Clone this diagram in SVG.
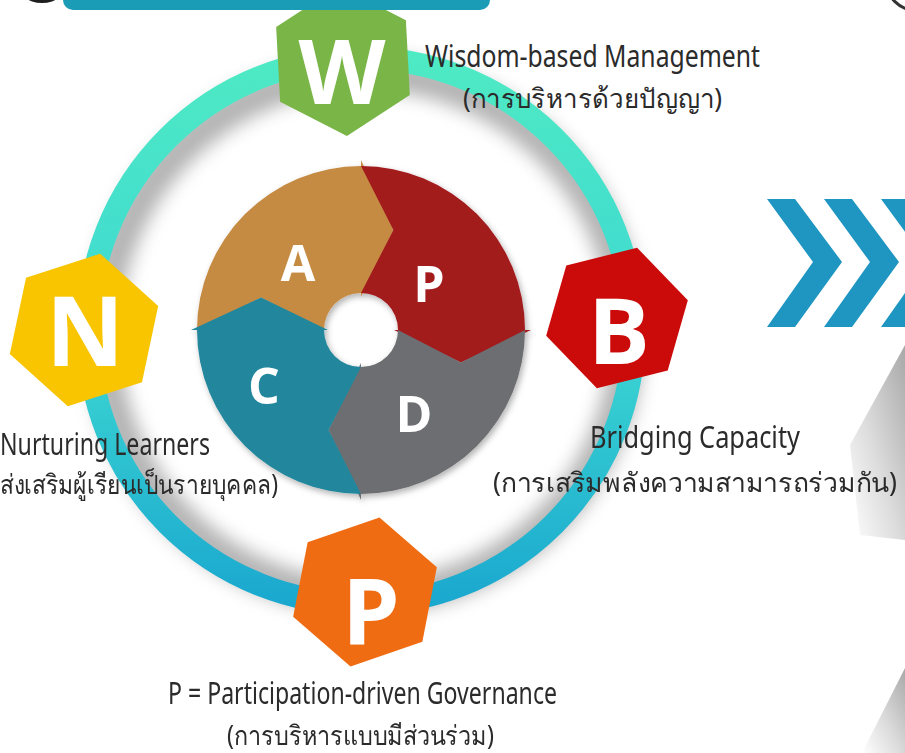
<svg xmlns="http://www.w3.org/2000/svg" width="905" height="753" viewBox="0 0 905 753">
<defs>
<linearGradient id="ringGrad" x1="0" y1="0" x2="0" y2="1">
<stop offset="0" stop-color="#4EEAC4"/>
<stop offset="0.5" stop-color="#3ED8D2"/>
<stop offset="1" stop-color="#1AA8CF"/>
</linearGradient>
<linearGradient id="wedge" x1="1" y1="0" x2="0" y2="1">
<stop offset="0" stop-color="#a8a8a8"/>
<stop offset="0.55" stop-color="#dcdcdc"/>
<stop offset="1" stop-color="#ffffff"/>
</linearGradient>
<filter id="blur8" x="-20%" y="-20%" width="140%" height="140%"><feGaussianBlur stdDeviation="9"/></filter>
<filter id="soft" x="-20%" y="-20%" width="140%" height="140%"><feDropShadow dx="2" dy="3" stdDeviation="3" flood-color="#000" flood-opacity="0.3"/></filter>
<polygon id="hex" points="0,-1 0.866,-0.5 0.866,0.5 0,1 -0.866,0.5 -0.866,-0.5"/>
<path id="seg" d="M197,330 A164,164 0 0 1 361,166 L361,160 L393.4,230.1 L361,297 L361,293 A37,37 0 0 0 324,330 L261.1,297.6 Z"/>
</defs>
<style>
.lbl{font-family:"Noto Sans","DejaVu Sans Condensed","Liberation Sans",sans-serif;fill:#2b2b2b;font-size:30px}
.th{font-size:27px}
.big{font-family:"Open Sans","Lato","DejaVu Sans",sans-serif;font-weight:700;fill:#ffffff;text-anchor:middle}
.pie{font-family:"Open Sans","Lato","DejaVu Sans",sans-serif;font-weight:700;fill:#ffffff;text-anchor:middle;font-size:50px}
</style>
<rect width="905" height="753" fill="#ffffff"/>

<g id="background">
<circle cx="918" cy="-22" r="33" fill="none" stroke="#333" stroke-width="3"/>
<polygon points="905,345 850,445 860,535 905,540" fill="url(#wedge)"/>
<polygon points="905,668 862,753 905,753" fill="url(#wedge)"/>
</g>

<g id="chevrons" fill="#1E96C1">
<polygon points="767,199 795,199 842,262 795,327 767,327 813,262"/>
<polygon points="824,199 852,199 899,262 852,327 824,327 870,262"/>
<polygon points="881,199 909,199 956,262 909,327 881,327 927,262"/>
</g>

<g id="ring">
<circle cx="365" cy="335" r="262" fill="none" stroke="#777" stroke-width="34" opacity="0.55" filter="url(#blur8)"/>
<circle cx="361" cy="331" r="273" fill="none" stroke="url(#ringGrad)" stroke-width="23"/>
</g>

<g id="pdca" filter="url(#soft)">
<g id="seg-A"><use href="#seg" fill="#C68B43"/><text class="pie" x="298" y="281">A</text></g>
<g id="seg-P"><use href="#seg" fill="#A31A1F" transform="rotate(90 361 330)"/><text class="pie" x="429" y="302">P</text></g>
<g id="seg-D"><use href="#seg" fill="#6D6E71" transform="rotate(180 361 330)"/><text class="pie" x="414" y="432">D</text></g>
<g id="seg-C"><use href="#seg" fill="#22879C" transform="rotate(270 361 330)"/><text class="pie" x="264" y="404">C</text></g>
</g>

<g id="node-W">
<use href="#hex" fill="#79B547" transform="translate(343,61) rotate(-3) scale(75)"/>
<text class="big" x="342" y="104" font-size="90">W</text>
<text class="lbl" x="425" y="67" textLength="335" lengthAdjust="spacingAndGlyphs">Wisdom-based Management</text>
<text class="lbl th" x="463" y="108" textLength="259" lengthAdjust="spacingAndGlyphs">(การบริหารด้วยปัญญา)</text>
</g>

<g id="node-N">
<use href="#hex" fill="#F8C500" transform="translate(84,330) rotate(12) scale(78)"/>
<text class="big" x="85" y="366" font-size="96">N</text>
<text class="lbl" x="0" y="455" textLength="210" lengthAdjust="spacingAndGlyphs">Nurturing Learners</text>
<text class="lbl th" x="0" y="494" textLength="278" lengthAdjust="spacingAndGlyphs">ส่งเสริมผู้เรียนเป็นรายบุคคล)</text>
</g>

<g id="node-B">
<use href="#hex" fill="#CB0A0A" transform="translate(617,318) rotate(16) scale(73)"/>
<text class="big" x="619" y="364" font-size="92">B</text>
<text class="lbl" x="590" y="448" textLength="210" lengthAdjust="spacingAndGlyphs">Bridging Capacity</text>
<text class="lbl th" x="493" y="492" textLength="404" lengthAdjust="spacingAndGlyphs">(การเสริมพลังความสามารถร่วมกัน)</text>
</g>

<g id="node-P">
<use href="#hex" fill="#EF6C12" transform="translate(365,592) rotate(11) scale(76)"/>
<text class="big" x="371" y="644" font-size="92">P</text>
<text class="lbl" x="168" y="704" textLength="389" lengthAdjust="spacingAndGlyphs">P = Participation-driven Governance</text>
<text class="lbl th" x="227" y="745" textLength="267" lengthAdjust="spacingAndGlyphs">(การบริหารแบบมีส่วนร่วม)</text>
</g>

<g id="banner">
<ellipse cx="42" cy="-18" rx="26" ry="21" fill="#1e1e1e"/>
<path d="M63,-10 H490 V0 a10,10 0 0 1 -10,10 H73 a10,10 0 0 1 -10,-10 Z" fill="#1A9CB6"/>
</g>
</svg>
